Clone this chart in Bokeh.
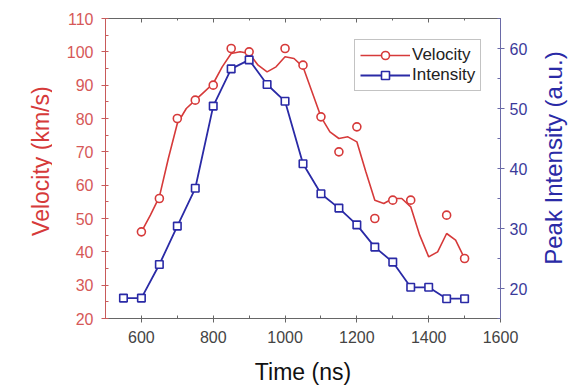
import math
from bokeh.plotting import figure
from bokeh.layouts import row
from bokeh.core.properties import value
from bokeh.models import (Range1d, LinearAxis, SingleIntervalTicker, Legend, LegendItem,
                          CustomJSTickFormatter)
from bokeh.embed import file_html
from bokeh.resources import INLINE

# ---- data ----
vel_time = [600, 650, 700, 750, 800, 850, 900, 1000, 1050, 1100, 1150, 1200, 1250, 1300, 1350, 1450, 1500]
vel_vals = [46, 56, 80, 85.5, 90, 101, 100, 101, 96, 80.5, 70, 77.5, 50, 55.5, 55.5, 51, 38]

# smoothed velocity curve as drawn in the picture
fit_time = [600, 625, 650, 675, 700, 725, 750, 775, 800, 825, 850, 875, 900, 925, 950, 975,
            1000, 1025, 1050, 1075, 1100, 1125, 1150, 1175, 1200, 1225, 1250, 1275, 1300,
            1325, 1350, 1375, 1400, 1425, 1450, 1475, 1500]
fit_vals = [46, 51, 56.5, 68, 78.5, 83, 85.5, 88, 90.5, 95.5, 99.5, 100, 99.5, 96, 94, 95.5,
            98.5, 98, 95.5, 88, 80.5, 76, 74, 74.5, 73, 64, 55.5, 54.5, 56,
            56, 53.5, 45, 38.5, 40, 45.5, 43.5, 38]

int_time = [550, 600, 650, 700, 750, 800, 850, 900, 950, 1000, 1050, 1100, 1150, 1200, 1250,
            1300, 1350, 1400, 1450, 1500]
int_vals = [18.4, 18.4, 24, 30.4, 36.7, 50.4, 56.6, 58.1, 54, 51.2, 40.8, 35.8, 33.4, 30.6, 26.9,
            24.4, 20.2, 20.2, 18.3, 18.3]

x_range = (500, 1600)
vel_range = (20, 110)
int_range = (15, 65)

RED = "#d63a3a"
RED_TXT = "#d65858"
BLUE = "#2a2aa6"
BLUE_TXT = "#3a3a9a"
FONT = "Liberation Sans"

W_LEFT, W_MAIN, W_RIGHT, H = 52, 478, 46, 389
BL, BR, BT, BB = 53, 28, 18, 71


def side_panel(width):
    s = figure(width=width, height=H, output_backend="svg", toolbar_location=None,
               x_range=Range1d(0, width), y_range=Range1d(0, H),
               x_axis_type=None, y_axis_type=None, min_border=0)
    s.xgrid.visible = False
    s.ygrid.visible = False
    s.outline_line_color = None
    s.background_fill_color = "white"
    s.border_fill_color = "white"
    return s


p = figure(width=W_MAIN, height=H, output_backend="svg", toolbar_location=None,
           x_range=Range1d(*x_range), y_range=Range1d(*vel_range),
           min_border_left=BL, min_border_right=BR, min_border_top=BT, min_border_bottom=BB)
p.extra_y_ranges = {"int": Range1d(*int_range)}
p.xgrid.visible = False
p.ygrid.visible = False
p.outline_line_color = None
p.background_fill_color = "white"
p.border_fill_color = "white"

# bottom axis
xa = p.xaxis[0]
xa.ticker = SingleIntervalTicker(interval=200, num_minor_ticks=2)
xa.axis_label = "Time (ns)"
xa.axis_label_text_font = FONT
xa.axis_label_text_font_size = "23px"
xa.axis_label_text_font_style = "normal"
xa.axis_label_text_color = "#111111"
xa.axis_label_standoff = 13
xa.major_label_text_font = FONT
xa.major_label_text_font_size = "16px"
xa.major_label_text_color = "#444444"
xa.major_label_standoff = 8
xa.axis_line_color = "#666666"
xa.major_tick_line_color = "#666666"
xa.minor_tick_line_color = "#666666"
xa.major_tick_in = 0
xa.major_tick_out = 4
xa.minor_tick_in = 3
xa.minor_tick_out = 0

# left axis (its title is drawn in the left side panel)
ya = p.yaxis[0]
ya.ticker = SingleIntervalTicker(interval=10, num_minor_ticks=2)
ya.major_label_text_font = FONT
ya.major_label_text_font_size = "16px"
ya.major_label_text_color = RED_TXT
ya.major_label_standoff = 8
ya.axis_line_color = "#c85a5a"
ya.major_tick_line_color = "#c85a5a"
ya.minor_tick_line_color = "#c85a5a"
ya.major_tick_in = 0
ya.major_tick_out = 4
ya.minor_tick_in = 3
ya.minor_tick_out = 0

# right axis (its title is drawn in the right side panel)
ra = LinearAxis(y_range_name="int", ticker=SingleIntervalTicker(interval=10, num_minor_ticks=2))
ra.major_label_text_font = FONT
ra.major_label_text_font_size = "16px"
ra.major_label_text_color = BLUE_TXT
ra.major_label_standoff = 5
ra.axis_line_color = "#6a6aa8"
ra.major_tick_line_color = "#6a6aa8"
ra.minor_tick_line_color = "#6a6aa8"
ra.major_tick_in = 0
ra.major_tick_out = 4
ra.minor_tick_in = 3
ra.minor_tick_out = 0
p.add_layout(ra, "right")

# top axis (ticks only)
ta = LinearAxis(ticker=SingleIntervalTicker(interval=200, num_minor_ticks=2),
                formatter=CustomJSTickFormatter(code="return ''"))
ta.axis_line_color = "#666666"
ta.major_tick_line_color = "#666666"
ta.minor_tick_line_color = "#666666"
ta.major_tick_in = 4
ta.major_tick_out = 0
ta.minor_tick_in = 2
ta.minor_tick_out = 0
ta.major_label_text_font_size = "1px"
ta.major_label_standoff = 0
p.add_layout(ta, "above")

# series
vl = p.line(fit_time, fit_vals, line_color=RED, line_width=1.6)
vs = p.scatter(vel_time, vel_vals, marker="circle", size=8, fill_color="white",
               line_color=RED, line_width=1.6)
il = p.line(int_time, int_vals, line_color=BLUE, line_width=1.8, y_range_name="int")
iscat = p.scatter(int_time, int_vals, marker="square", size=7.5, fill_color="white",
                  line_color=BLUE, line_width=1.6, y_range_name="int")

legend = Legend(items=[LegendItem(label="Velocity", renderers=[vl, vs]),
                       LegendItem(label="Intensity", renderers=[il, iscat])],
                location=(249, 227), orientation="vertical")
legend.label_text_font = FONT
legend.label_text_font_size = "17px"
legend.label_text_color = "#222222"
legend.glyph_width = 50
legend.glyph_height = 20
legend.label_height = 20
legend.label_standoff = 2
legend.padding = 5
legend.spacing = 0
legend.margin = 0
legend.border_line_color = "#888888"
legend.border_line_width = 1
legend.background_fill_alpha = 1
p.add_layout(legend, "center")

# side panels holding the axis titles, both reading bottom-to-top
left = side_panel(W_LEFT)
left.text(x=[40], y=[204], text=["Velocity (km/s)"], angle=math.pi / 2,
          text_align="center", text_baseline="middle", text_font=value(FONT),
          text_font_size="23px", text_color=RED)

right = side_panel(W_RIGHT)
right.text(x=[23], y=[208], text=["Peak Intensity (a.u.)"], angle=math.pi / 2,
           text_align="center", text_baseline="middle", text_font=value(FONT),
           text_font_size="24px", text_color=BLUE)

layout = row(left, p, right)
open("out.html", "w").write(file_html(layout, INLINE))
